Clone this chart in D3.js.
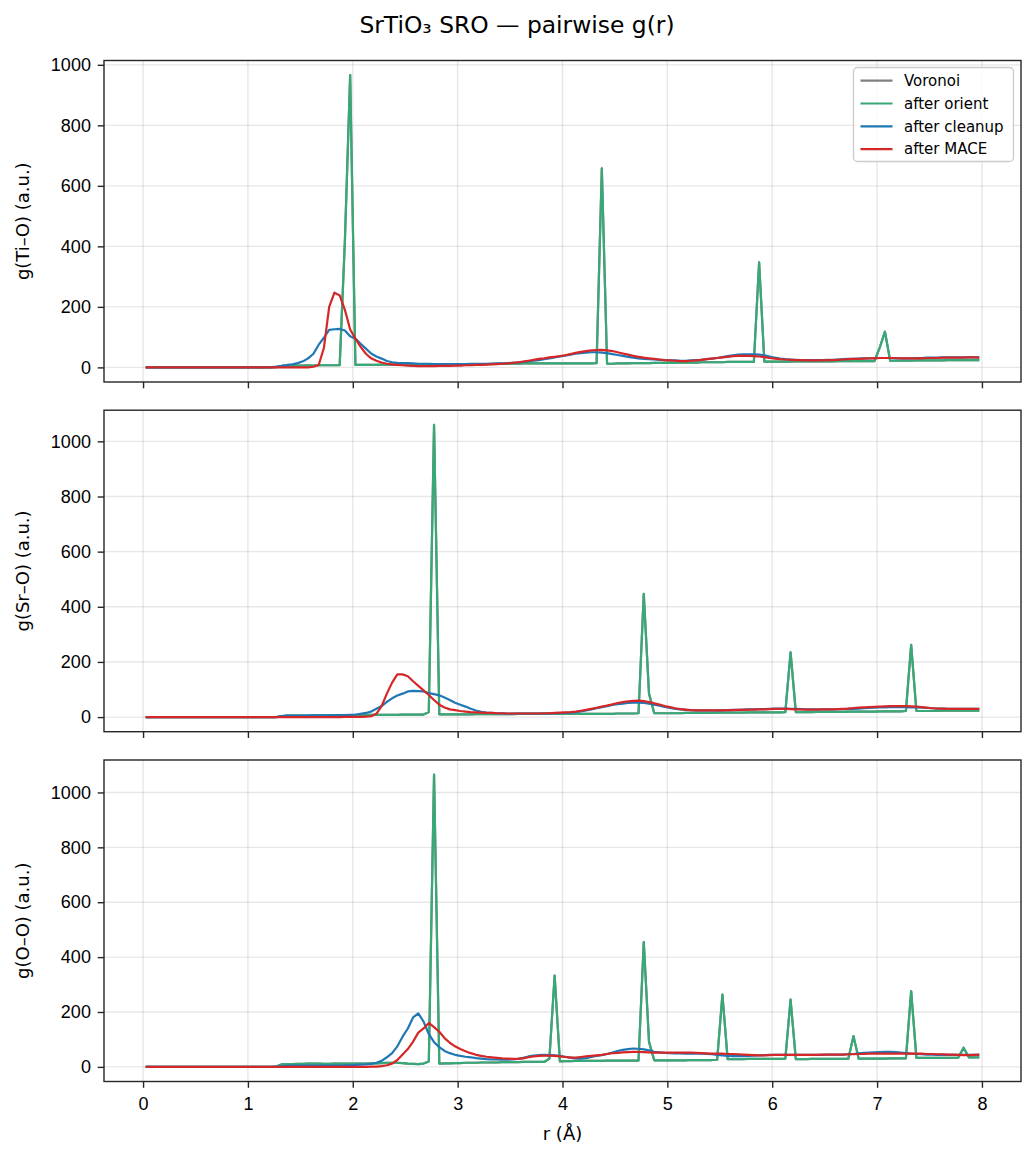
<!DOCTYPE html>
<html>
<head>
<meta charset="utf-8">
<script src="https://cdn.jsdelivr.net/npm/d3@7"></script>
<style>
body { margin: 0; background: #fff; }
svg { display: block; font-family: "DejaVu Sans", sans-serif; }
.tick text { font-size: 18px; fill: #000; }
.tick line { stroke: #262626; stroke-width: 1.4; }
.grid line { stroke: #b0b0b0; stroke-opacity: 0.3; stroke-width: 1.4; }
.frame { fill: none; stroke: #262626; stroke-width: 1.4; }
.line { fill: none; stroke-width: 2.2; stroke-linejoin: round; }
</style>
</head>
<body>
<div id="chart"></div>
<script>
// r bin centres (Å): first centre and bin width
var R_START = 0.025, R_STEP = 0.05, N_BINS = 160;
var r_values = d3.range(N_BINS).map(function(i){ return +(R_START + R_STEP * i).toFixed(3); });

var x_ticks = [0, 1, 2, 3, 4, 5, 6, 7, 8];
var y_ticks = [0, 200, 400, 600, 800, 1000];
var series_names = ["Voronoi", "after orient", "after cleanup", "after MACE"];
var series_colors = ["#808080", "#38a876", "#1f77b4", "#d62728"];
var panel_labels = ["g(Ti\u2013O) (a.u.)", "g(Sr\u2013O) (a.u.)", "g(O\u2013O) (a.u.)"];

// one row per 1 Å (20 bins)
var tiO_orient = [
  0,0,0,0,0, 0,0,0,0,0, 0,0,0,0,0, 0,0,0,0,0,
  0,0,0,0,0, 1,5,6,6,6, 6,7,6,7,7, 7,7,7,420,966,
  8,8,8,8,8, 9,9,9,9,9, 10,10,10,10,10, 10,10,10,10,10,
  10,10,11,11,11, 11,12,12,12,12, 12,12,13,13,13, 13,13,13,13,13,
  13,13,13,13,13, 13,14,658,12,12, 13,13,13,14,14, 14,14,15,15,15,
  15,15,16,16,16, 16,17,17,17,17, 17,18,18,18,18, 18,18,347,19,19,
  19,19,19,19,20, 20,20,20,20,20, 20,20,21,21,21, 21,21,21,21,21,
  65,118,22,22,22, 22,22,23,23,23, 23,23,23,24,24, 24,24,24,24,24
];
var tiO_cleanup = [
  0,0,0,0,0, 0,0,0,0,0, 0,0,0,0,0, 0,0,0,0,0,
  0,0,0,1,1, 3,5,8,10,14, 20,30,45,75,98, 124,126,127,122,103,
  95,78,62,46,36, 29,21,17,15,14, 14,13,12,12,12, 11,11,11,11,11,
  11,11,12,12,12, 12,12,13,13,14, 15,16,18,20,22, 24,27,30,33,36,
  39,42,45,47,49, 50,50,49,47,44, 41,38,35,32,30, 28,27,26,25,24,
  23,23,22,22,23, 24,25,27,29,31, 34,37,40,42,43, 43,43,42,40,36,
  32,29,27,26,25, 24,24,24,24,24, 25,25,26,27,28, 28,29,30,30,31,
  31,31,31,30,30, 30,30,31,31,32, 32,32,33,33,33, 33,33,34,33,33
];
var tiO_mace = [
  0,0,0,0,0, 0,0,0,0,0, 0,0,0,0,0, 0,0,0,0,0,
  0,0,0,0,0, 0,0,0,0,0, 0,0,2,8,65, 200,247,238,190,125,
  95,68,45,30,22, 16,12,10,8,7, 6,5,4,4,4, 4,5,5,5,6,
  6,7,7,8,8, 9,10,11,12,13, 15,17,19,22,25, 28,30,33,35,37,
  40,44,48,51,54, 56,57,58,56,54, 50,46,42,38,35, 32,30,28,26,24,
  23,22,21,21,22, 23,25,27,29,31, 33,35,37,38,38, 38,37,36,34,31,
  29,27,26,25,24, 24,23,23,23,23, 24,24,25,26,27, 28,28,29,30,30,
  31,31,31,31,30, 30,30,30,30,31, 31,31,32,32,32, 32,32,33,33,32
];

var srO_orient = [
  0,0,0,0,0, 0,0,0,0,0, 0,0,0,0,0, 0,0,0,0,0,
  0,0,0,0,0, 0,4,5,5,5, 5,5,6,6,6, 6,7,7,7,7,
  7,7,8,8,8, 8,8,8,8,9, 9,9,9,9,18, 1060,10,10,10,10,
  10,10,10,11,11, 11,11,11,11,11, 11,12,12,12,12, 12,12,12,12,12,
  12,12,12,12,12, 12,12,12,12,12, 13,13,13,13,14, 447,85,14,14,14,
  14,14,14,15,15, 15,15,15,15,16, 16,16,16,16,16, 17,17,17,17,17,
  17,17,18,235,18, 18,18,18,19,19, 19,19,19,19,20, 20,20,20,20,20,
  21,21,21,21,21, 22,262,22,22,22, 22,22,23,23,23, 23,23,23,23,23
];
var srO_cleanup = [
  0,0,0,0,0, 0,0,0,0,0, 0,0,0,0,0, 0,0,0,0,0,
  0,0,0,0,0, 1,4,5,5,5, 5,5,6,6,6, 6,7,7,7,8,
  9,12,15,20,30, 40,55,68,78,85, 93,95,94,93,87, 83,79,71,62,52,
  45,38,30,24,19, 16,15,14,14,13, 13,13,13,13,13, 13,13,13,14,14,
  15,16,18,21,24, 28,32,36,40,44, 47,49,51,52,52, 51,49,45,41,37,
  33,30,28,26,25, 24,24,24,24,24, 25,25,26,26,27, 28,28,29,29,30,
  31,31,31,30,30, 29,28,28,28,28, 28,28,29,29,30, 30,31,32,33,34,
  35,35,36,36,36, 36,35,35,34,33, 32,31,31,30,30, 30,30,30,30,30
];
var srO_mace = [
  0,0,0,0,0, 0,0,0,0,0, 0,0,0,0,0, 0,0,0,0,0,
  0,0,0,0,0, 0,0,0,0,0, 0,0,0,0,0, 0,0,0,1,1,
  1,1,2,3,12, 40,85,125,155,155, 148,130,113,97,80, 62,45,35,28,25,
  22,20,18,17,16, 15,15,14,14,13, 13,13,13,13,13, 13,14,14,15,16,
  17,18,20,23,26, 30,34,38,42,46, 51,54,57,59,60, 58,54,50,45,40,
  36,32,29,27,25, 24,24,24,24,24, 24,25,25,26,26, 27,27,28,28,29,
  30,30,30,29,28, 28,27,27,27,28, 28,28,29,30,31, 33,34,35,36,37,
  38,39,40,40,40, 40,39,38,36,34, 32,31,31,30,30, 30,30,30,30,30
];

var oO_orient = [
  0,0,0,0,0, 0,0,0,0,0, 0,0,0,0,0, 0,0,0,0,0,
  0,0,0,0,0, 2,10,10,10,11, 11,12,12,12,11, 11,12,12,12,12,
  12,12,12,13,13, 14,15,15,15,14, 12,11,10,12,20, 1065,12,13,13,14,
  14,15,15,15,16, 16,16,16,17,17, 17,17,18,18,18, 18,18,30,333,20,
  21,21,22,22,22, 22,22,22,23,23, 23,23,23,23,23, 455,91,24,24,24,
  24,24,24,24,25, 25,25,25,25,26, 263,28,28,28,28, 29,29,29,29,29,
  29,29,30,245,28, 28,28,29,29,29, 29,29,29,29,29, 112,30,30,30,30,
  30,30,31,31,31, 31,276,33,33,33, 33,33,33,33,33, 34,70,35,35,35
];
var oO_cleanup = [
  0,0,0,0,0, 0,0,0,0,0, 0,0,0,0,0, 0,0,0,0,0,
  0,0,0,0,0, 1,3,4,5,5, 5,5,5,5,5, 5,5,5,6,6,
  7,8,9,11,15, 22,35,50,75,110, 140,180,195,165,120, 90,72,58,50,44,
  40,37,35,32,30, 28,27,27,26,26, 27,29,33,38,41, 43,44,43,42,40,
  37,34,31,30,32, 36,40,43,47,52, 58,62,65,67,66, 64,60,55,53,51,
  50,49,49,48,48, 48,48,47,46,44, 42,40,39,39,39, 40,41,42,43,44,
  44,44,44,44,44, 44,44,44,44,44, 45,45,45,45,46, 47,49,51,52,53,
  54,55,55,54,52, 50,48,47,46,45, 45,44,44,44,44, 44,44,44,44,44
];
var oO_mace = [
  0,0,0,0,0, 0,0,0,0,0, 0,0,0,0,0, 0,0,0,0,0,
  0,0,0,0,0, 0,0,0,0,0, 0,0,0,0,0, 0,0,0,0,0,
  0,0,0,1,1, 3,6,12,25,45, 65,92,125,140,160, 145,128,105,88,75,
  65,57,50,44,40, 37,35,33,31,30, 29,29,31,35,38, 40,41,41,40,38,
  36,34,34,36,38, 40,42,44,47,50, 51,53,54,55,55, 54,53,52,52,52,
  52,52,52,52,52, 51,50,49,48,48, 48,47,47,46,45, 44,43,42,42,43,
  44,44,44,44,44, 44,44,44,44,45, 45,45,45,45,46, 46,47,47,48,48,
  48,48,48,48,48, 48,48,48,48,47, 47,46,46,45,45, 44,43,43,44,45
];

// Voronoi curves coincide with the "after orient" ones (drawn underneath)
var panels = [
    {label: panel_labels[0], series: [tiO_orient, tiO_orient, tiO_cleanup, tiO_mace]},
    {label: panel_labels[1], series: [srO_orient, srO_orient, srO_cleanup, srO_mace]},
    {label: panel_labels[2], series: [oO_orient, oO_orient, oO_cleanup, oO_mace]}
];

function create_figure(div_id){
    var fig_width = 1034, fig_height = 1157;
    var left = 104, plot_width = 917, plot_height = 321.5;
    var tops = [60.5, 410.2, 760];

    var svg = d3.select(div_id).append("svg")
        .attr("width", fig_width)
        .attr("height", fig_height);

    svg.append("rect").attr("width", fig_width).attr("height", fig_height).attr("fill", "#fff");

    svg.append("text")
        .attr("x", 517).attr("y", 32.5)
        .attr("text-anchor", "middle")
        .style("font-size", "23.4px")
        .text("SrTiO\u2083 SRO \u2014 pairwise g(r)");

    // matplotlib-like 5% margins
    var r_span = d3.max(r_values) - d3.min(r_values);
    var xScale = d3.scaleLinear()
        .domain([d3.min(r_values) - 0.05 * r_span, d3.max(r_values) + 0.05 * r_span])
        .range([0, plot_width]);

    panels.forEach(function(panel, p){
        var g = svg.append("g").attr("transform", "translate(" + left + "," + tops[p] + ")");
        var y_max = d3.max(panel.series, function(s){ return d3.max(s); });
        var yScale = d3.scaleLinear()
            .domain([-0.05 * y_max, 1.05 * y_max])
            .range([plot_height, 0]);

        // grid
        g.append("g").attr("class", "grid")
            .selectAll("line").data(x_ticks).enter().append("line")
            .attr("x1", function(d){ return xScale(d); }).attr("x2", function(d){ return xScale(d); })
            .attr("y1", 0).attr("y2", plot_height);
        g.append("g").attr("class", "grid")
            .selectAll("line").data(y_ticks).enter().append("line")
            .attr("x1", 0).attr("x2", plot_width)
            .attr("y1", function(d){ return yScale(d); }).attr("y2", function(d){ return yScale(d); });

        // curves
        panel.series.forEach(function(values, k){
            var line = d3.line()
                .x(function(d, i){ return xScale(r_values[i]); })
                .y(function(d){ return yScale(d); });
            g.append("path")
                .datum(values)
                .attr("class", "line")
                .attr("stroke", series_colors[k])
                .attr("d", line);
        });

        // axes
        var x_axis = g.append("g")
            .attr("class", "x axis")
            .attr("transform", "translate(0," + plot_height + ")")
            .call(d3.axisBottom(xScale).tickValues(x_ticks).tickSize(6.3).tickPadding(9.5)
                .tickFormat(p === panels.length - 1 ? d3.format("d") : function(){ return ""; }));
        x_axis.select(".domain").remove();

        var y_axis = g.append("g")
            .attr("class", "y axis")
            .call(d3.axisLeft(yScale).tickValues(y_ticks).tickSize(6.3).tickPadding(6.8).tickFormat(d3.format("d")));
        y_axis.select(".domain").remove();

        g.append("rect").attr("class", "frame")
            .attr("width", plot_width).attr("height", plot_height);

        svg.append("text")
            .attr("transform", "translate(29," + (tops[p] + plot_height / 2) + ") rotate(-90)")
            .attr("text-anchor", "middle")
            .style("font-size", "18px")
            .text(panel.label);

        if (p === 0){
            var legend = svg.append("g").attr("transform", "translate(853.5,67.5)");
            legend.append("rect")
                .attr("width", 160).attr("height", 94).attr("rx", 4)
                .attr("fill", "#fff").attr("fill-opacity", 0.8)
                .attr("stroke", "#cccccc").attr("stroke-width", 1.3);
            series_names.forEach(function(name, k){
                var yy = 13.2 + k * 22.8;
                legend.append("line")
                    .attr("x1", 7).attr("x2", 39).attr("y1", yy).attr("y2", yy)
                    .attr("stroke", series_colors[k]).attr("stroke-width", 2.2);
                legend.append("text")
                    .attr("x", 50.5).attr("y", yy).attr("dy", "0.35em")
                    .style("font-size", "15px")
                    .text(name);
            });
        }
    });

    svg.append("text")
        .attr("x", left + plot_width / 2).attr("y", 1139.5)
        .attr("text-anchor", "middle")
        .style("font-size", "18px")
        .text("r (\u00c5)");
}

create_figure("#chart");
</script>
</body>
</html>
